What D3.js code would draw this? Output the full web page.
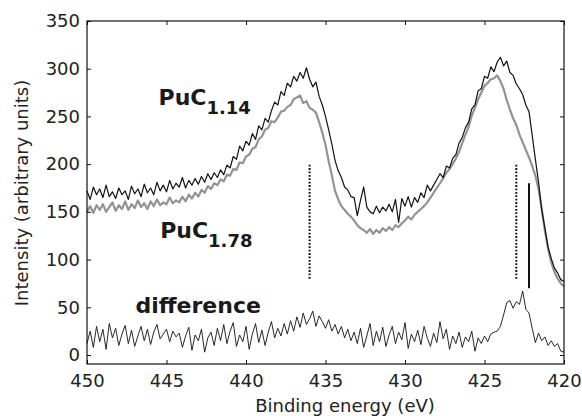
<!DOCTYPE html>
<html>
<head>
<meta charset="utf-8">
<script src="https://cdn.jsdelivr.net/npm/d3@7"></script>
<style>
  body { margin: 0; background: #fff; }
  svg { display: block; font-family: "DejaVu Sans", sans-serif; }
</style>
</head>
<body>
<div id="chart"></div>
<script>
// binding energy grid: 450 -> 420 eV in 0.2 eV steps (151 points)
const energyStart = 450;
const energyStep = -0.2;

// PuC1.14 spectrum (black)
const puc114 = [
  172,163,176,168,174,165,178,166,171,164,175,168,172,163,177,169,174,166,179,170,
  175,168,181,172,178,171,183,174,180,176,186,175,183,178,185,179,187,181,190,184,
  191,186,194,189,199,196,208,205,219,214,224,220,232,226,240,236,248,244,256,265,
  262,276,272,285,281,292,287,296,290,301,289,281,286,271,262,250,236,221,204,193,
  186,176,173,166,165,146,162,176,155,150,148,156,149,155,151,158,150,163,139,164,
  156,166,155,165,160,170,165,178,172,178,184,190,186,198,196,206,210,222,228,238,
  244,258,262,277,279,292,290,302,297,307,312,303,308,296,293,284,279,273,262,255,
  230,205,181,152,133,113,101,91,86,79,77
];

// PuC1.78 spectrum (grey)
const puc178 = [
  150,156,149,157,152,158,150,155,160,151,157,153,161,152,158,154,162,155,159,153,
  161,156,163,157,160,158,165,159,162,160,166,161,168,164,170,166,173,170,177,174,
  180,178,184,182,189,188,195,194,202,201,208,210,216,218,226,229,236,238,245,244,
  249,255,256,260,262,268,270,272,264,266,259,257,254,244,233,220,203,188,172,163,
  156,152,148,145,141,136,133,131,128,132,127,131,128,133,130,134,131,136,134,138,
  141,145,142,147,150,153,156,160,165,170,175,180,185,191,195,200,206,213,222,231,
  239,251,259,268,275,282,285,289,290,293,287,279,267,257,248,241,231,223,215,207,
  198,188,174,153,130,111,97,87,80,75,72
];

// difference spectrum
const difference = [
  12,25,8,30,14,27,6,33,18,28,10,22,31,12,26,9,20,30,15,27,
  11,24,32,17,22,27,14,25,19,23,8,20,29,5,21,15,27,3,18,24,
  10,28,15,32,12,25,34,9,21,14,30,6,22,33,13,26,10,24,35,18,
  28,20,33,22,36,25,40,29,44,32,38,46,30,41,35,28,37,25,32,22,
  30,18,27,15,24,12,28,8,20,33,10,25,14,29,9,21,30,12,24,16,
  34,7,22,14,26,11,30,18,9,23,13,35,17,27,6,20,12,24,8,19,
  14,25,4,18,12,20,14,22,24,25,30,42,55,57,49,56,53,67,48,44,
  28,13,23,15,19,10,15,9,12,4,3
];

// reference markers
const dottedMarks = [436.0, 423.0];
const dottedRange = [80, 200];
const solidMarks = [422.2];
const solidRange = [70, 180];

const xTicks = [450, 445, 440, 435, 430, 425, 420];
const yTicks = [0, 50, 100, 150, 200, 250, 300, 350];

const W = 582, H = 416;
const margin = {top: 21, right: 18, bottom: 52, left: 87};

const svg = d3.select('#chart').append('svg')
    .attr('width', W)
    .attr('height', H);

const x = d3.scaleLinear().domain([450, 420]).range([margin.left, W - margin.right]);
const y = d3.scaleLinear().domain([-9.4, 350]).range([H - margin.bottom, margin.top]);

const energy = i => energyStart + i * energyStep;
const line = d3.line()
    .x((d, i) => x(energy(i)))
    .y(d => y(d));

// spectra
svg.append('path')
    .datum(puc178)
    .attr('d', line)
    .attr('fill', 'none')
    .attr('stroke', '#939393')
    .attr('stroke-width', 2.2)
    .attr('stroke-linejoin', 'round');

svg.append('path')
    .datum(puc114)
    .attr('d', line)
    .attr('fill', 'none')
    .attr('stroke', '#111')
    .attr('stroke-width', 1.2)
    .attr('stroke-linejoin', 'round');

svg.append('path')
    .datum(difference)
    .attr('d', line)
    .attr('fill', 'none')
    .attr('stroke', '#111')
    .attr('stroke-width', 0.9)
    .attr('stroke-linejoin', 'round');

// markers
svg.selectAll('.dotted')
    .data(dottedMarks)
    .enter().append('line')
    .attr('x1', d => x(d)).attr('x2', d => x(d))
    .attr('y1', y(dottedRange[0])).attr('y2', y(dottedRange[1]))
    .attr('stroke', '#111')
    .attr('stroke-width', 2)
    .attr('stroke-dasharray', '1.8,1.6');

svg.selectAll('.solid')
    .data(solidMarks)
    .enter().append('line')
    .attr('x1', d => x(d)).attr('x2', d => x(d))
    .attr('y1', y(solidRange[0])).attr('y2', y(solidRange[1]))
    .attr('stroke', '#111')
    .attr('stroke-width', 2);

// axes with inward ticks on all four sides
const styleAxis = g => {
    g.select('.domain').remove();
    g.selectAll('.tick line').attr('stroke', '#111').attr('stroke-width', 1);
    g.selectAll('text').attr('fill', '#222').style('font-size', '18px')
        .style('font-family', '"DejaVu Sans", sans-serif');
};

svg.append('g')
    .attr('transform', `translate(0,${H - margin.bottom})`)
    .call(d3.axisBottom(x).tickValues(xTicks).tickSize(-4).tickPadding(10).tickFormat(d3.format('d')))
    .call(styleAxis);

svg.append('g')
    .attr('transform', `translate(${margin.left},0)`)
    .call(d3.axisLeft(y).tickValues(yTicks).tickSize(-4).tickPadding(7).tickFormat(d3.format('d')))
    .call(styleAxis);

svg.append('g')
    .attr('transform', `translate(0,${margin.top})`)
    .call(d3.axisTop(x).tickValues(xTicks).tickSize(-4).tickFormat(''))
    .call(styleAxis);

svg.append('g')
    .attr('transform', `translate(${W - margin.right},0)`)
    .call(d3.axisRight(y).tickValues(yTicks).tickSize(-4).tickFormat(''))
    .call(styleAxis);

svg.append('rect')
    .attr('x', margin.left)
    .attr('y', margin.top)
    .attr('width', W - margin.left - margin.right)
    .attr('height', H - margin.top - margin.bottom)
    .attr('fill', 'none')
    .attr('stroke', '#111')
    .attr('stroke-width', 1.2);

// axis titles
svg.append('text')
    .attr('x', 345)
    .attr('y', 412)
    .attr('text-anchor', 'middle')
    .attr('fill', '#222')
    .style('font-size', '18px')
    .text('Binding energy (eV)');

svg.append('text')
    .attr('transform', 'translate(28,193) rotate(-90)')
    .attr('text-anchor', 'middle')
    .attr('fill', '#222')
    .style('font-size', '18px')
    .text('Intensity (arbitrary units)');

// curve labels
const addLabel = (ex, iv, main, sub) => {
    const t = svg.append('text')
        .attr('x', x(ex))
        .attr('y', y(iv))
        .attr('fill', '#1a1a1a')
        .style('font-weight', 'bold')
        .style('font-size', '22px');
    t.append('tspan').text(main);
    if (sub) {
        t.append('tspan')
            .attr('dy', 9)
            .style('font-size', '18px')
            .text(sub);
    }
};

addLabel(445.5, 262, 'PuC', '1.14');
addLabel(445.4, 122.5, 'PuC', '1.78');
addLabel(446.95, 44, 'difference');
</script>
</body>
</html>
